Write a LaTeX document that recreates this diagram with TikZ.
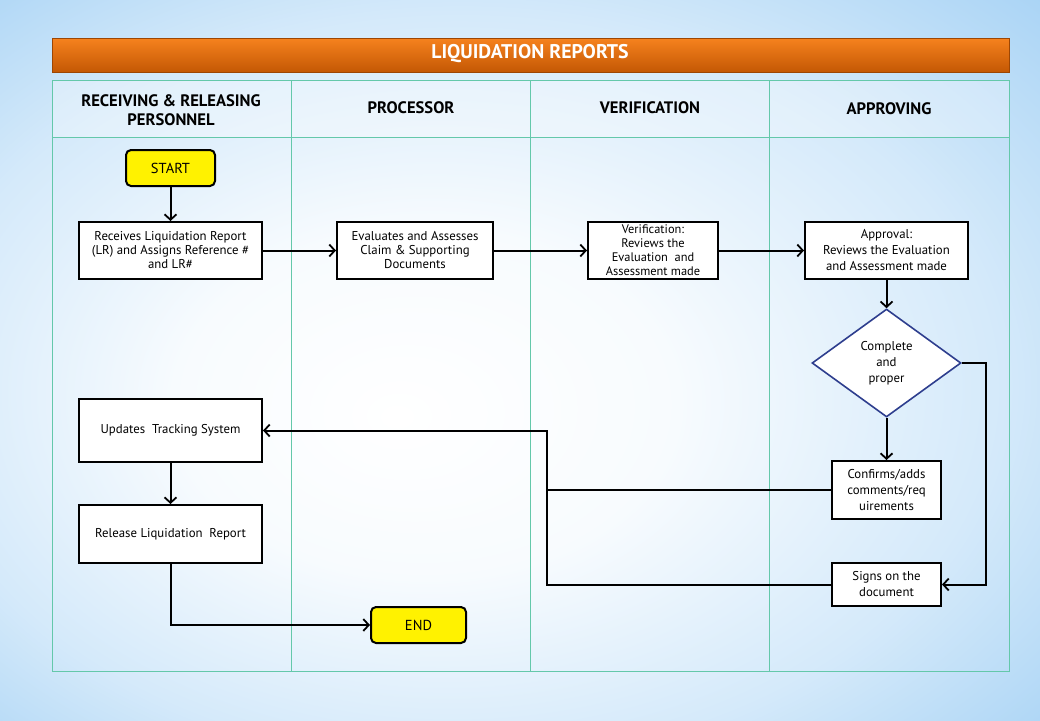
\documentclass[tikz,border=0pt]{standalone}
\usepackage{fontspec}
\setmainfont{PT Sans}
\usetikzlibrary{arrows.meta,shapes.geometric}
\definecolor{bgblue}{RGB}{160,207,244}
\definecolor{lane}{RGB}{100,200,170}
\definecolor{orTop}{RGB}{246,130,30}
\definecolor{orBot}{RGB}{196,88,4}
\definecolor{dblue}{RGB}{46,62,142}
\pgfdeclareradialshading{bgshade}{\pgfpoint{-6bp}{-4bp}}{color(0bp)=(white); color(12bp)=(white!92!bgblue); color(26bp)=(white!55!bgblue); color(40bp)=(bgblue); color(50bp)=(bgblue)}
\tikzset{
  box/.style={draw=black, line width=2pt, fill=white, align=center, font=\fontsize{12.8}{14}\selectfont, inner sep=1pt},
  term/.style={draw=black, line width=2pt, fill=yellow, rounded corners=5pt, font=\fontsize{14.5}{16}\selectfont, minimum width=89pt, minimum height=36pt},
  dec/.style={diamond, draw=dblue, line width=1.6pt, fill=white, align=center, font=\fontsize{12.8}{16}\selectfont, minimum width=149pt, minimum height=108pt, aspect=1.38, inner sep=0pt},
  hdr/.style={align=center, font=\fontsize{16.6}{19}\selectfont\bfseries},
  conn/.style={line width=2pt, -{Straight Barb[length=5.5pt,width=12pt,line width=1.8pt]}},
  plain/.style={line width=2pt},
}
\begin{document}
\begin{tikzpicture}[x=1pt,y=-1pt]
\useasboundingbox (0,0) rectangle (1040,720);
% background
\shade[shading=bgshade] (0,0) rectangle (1040,720);
% title bar
\shade[top color=orTop, bottom color=orBot, draw=orBot!80!black, line width=0.6pt] (52,38) rectangle (1009,72);
\node[text=white, font=\fontsize{19.8}{22}\selectfont\bfseries] (title) at (530,54) {LIQUIDATION REPORTS};
% table
\fill[white, opacity=0.3] (52,80) rectangle (1009,137);
\draw[lane, line width=0.8pt] (52,80) rectangle (1009,671);
\draw[lane, line width=0.8pt] (52,137) -- (1009,137);
\draw[lane, line width=0.8pt] (291,80) -- (291,671);
\draw[lane, line width=0.8pt] (530,80) -- (530,671);
\draw[lane, line width=0.8pt] (769,80) -- (769,671);
\node[hdr] (h1) at (171,110) {RECEIVING \& RELEASING\\PERSONNEL};
\node[hdr] (h2) at (411,108) {PROCESSOR};
\node[hdr] (h3) at (650,108) {VERIFICATION};
\node[hdr] (h4) at (889,109) {APPROVING};
% nodes
\node[term] (start) at (170.5,168) {START};
\node[box, minimum width=183pt, minimum height=57pt] (recv) at (170.5,250.5) {Receives Liquidation Report\\(LR) and Assigns Reference \#\\and LR\#};
\node[box, minimum width=156pt, minimum height=57pt] (eval) at (415,250.5) {Evaluates and Assesses\\Claim \& Supporting\\Documents};
\node[box, minimum width=130pt, minimum height=57pt, inner sep=0pt, font=\fontsize{12.4}{14}\selectfont] (verif) at (653,250.5) {Verification:\\Reviews the\\Evaluation ~and\\Assessment made};
\node[box, minimum width=163pt, minimum height=57pt, font=\fontsize{12.8}{16}\selectfont] (appr) at (886.5,250.5) {Approval:\\Reviews the Evaluation\\and Assessment made};
\node[dec] (cp) at (886.5,363) {Complete\\and\\proper};
\node[box, minimum width=109pt, minimum height=58pt, font=\fontsize{12.8}{16}\selectfont] (conf) at (886.5,490) {Confirms/adds\\comments/req\\uirements};
\node[box, minimum width=109pt, minimum height=43pt, font=\fontsize{12.8}{16}\selectfont] (sign) at (886.5,584.5) {Signs on the\\document};
\node[box, minimum width=183pt, minimum height=63pt] (upd) at (170.5,430.5) {Updates ~Tracking System};
\node[box, minimum width=183pt, minimum height=58pt] (rel) at (170.5,534) {Release Liquidation ~Report};
\node[term, minimum width=95pt] (end) at (418.5,625) {END};
% connectors
\coordinate (j1) at (547,490);
\coordinate (j2) at (547,584.5);
\coordinate (j3) at (547,430.5);
\coordinate (r1) at (986,363);
\coordinate (r2) at (986,584.5);
\coordinate (e1) at (170.5,625);
\draw[conn] (start) -- (recv);
\draw[conn] (recv) -- (eval);
\draw[conn] (eval) -- (verif);
\draw[conn] (verif) -- (appr);
\draw[conn] (appr) -- (cp.north);
\draw[conn] (cp.south) -- (conf);
\draw[conn] (cp.east) -- (r1) -- (r2) -- (sign.east);
\draw[plain] (conf.west) -- (j1);
\draw[conn] (sign.west) -- (j2) -- (j3) -- (upd.east);
\draw[conn] (upd) -- (rel);
\draw[conn] (rel.south) -- (e1) -- (end.west);
\end{tikzpicture}
\end{document}
